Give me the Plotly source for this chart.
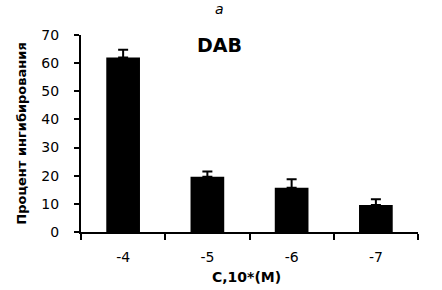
import plotly.graph_objects as go

categories = ["-4", "-5", "-6", "-7"]
values = [62, 19.6, 15.7, 9.6]
errors = [2.8, 1.9, 3.0, 2.0]

fig = go.Figure()
fig.add_trace(go.Bar(
    x=categories, y=values,
    marker=dict(color="black", line=dict(width=0)),
    width=0.4,
    error_y=dict(type="data", array=errors, symmetric=False, arrayminus=[0]*4,
                 color="black", thickness=2, width=5, visible=True),
))

font_family = "DejaVu Sans"
fig.update_layout(
    width=442, height=290,
    margin=dict(l=81, r=24, t=35, b=58),
    paper_bgcolor="white", plot_bgcolor="white",
    showlegend=False,
    font=dict(family=font_family, color="black", size=12),
    xaxis=dict(type="category", range=[-0.5, 3.5], showline=True, linecolor="black",
               linewidth=2, ticks="outside", tickson="boundaries", ticklen=6, tickwidth=2,
               tickcolor="black", tickfont=dict(size=14), showgrid=False,
               ticklabelstandoff=11, automargin=False),
    yaxis=dict(range=[0, 70], dtick=10, showline=True, linecolor="black", linewidth=2,
               ticks="outside", ticklen=5, tickwidth=2, tickcolor="black", showgrid=False,
               zeroline=False, tickfont=dict(size=14), ticklabelstandoff=12, automargin=False,
               title=dict(text="<b>Процент ингибирования</b>", font=dict(size=13), standoff=12)),
    annotations=[
        dict(text="<i>a</i>", x=0.412, xref="paper", xanchor="center", y=1.081, yref="paper",
             yanchor="bottom", showarrow=False, font=dict(size=14)),
        dict(text="<b>DAB</b>", x=0.41, xref="paper", xanchor="center", y=0.947, yref="paper",
             yanchor="middle", showarrow=False, font=dict(size=19)),
        dict(text="<b>C,10*(M)</b>", x=0.49, xref="paper", xanchor="center", y=-0.228,
             yref="paper", yanchor="middle", showarrow=False, font=dict(size=14)),
    ],
)
fig.write_html("out.html", config={"displayModeBar": False},
               post_script="document.body.style.margin='0';")
